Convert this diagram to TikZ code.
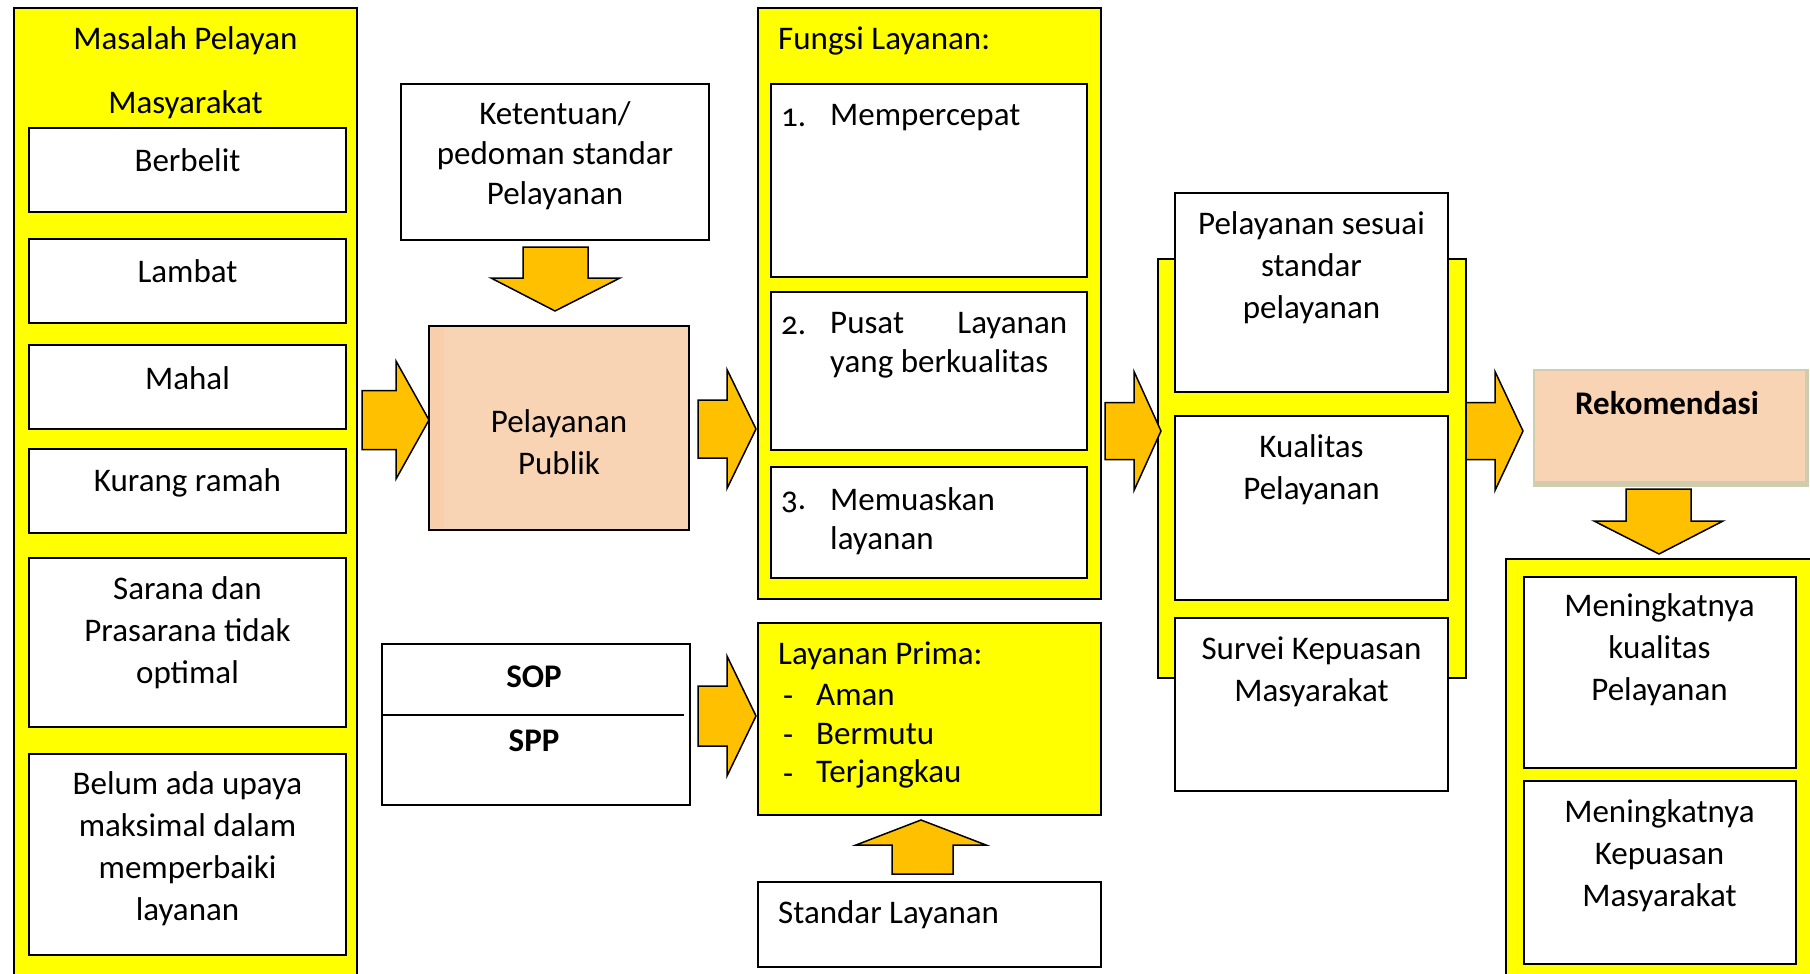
\documentclass[tikz,border=0pt]{standalone}
\usepackage{fontspec}
\setmainfont{Carlito}[Numbers=OldStyle]
\usetikzlibrary{calc}
\definecolor{yel}{HTML}{FFFF00}
\definecolor{org}{HTML}{FFC000}
\definecolor{peach}{HTML}{F8D4B4}
\definecolor{peachdark}{HTML}{F9CEAA}
\definecolor{rekrim}{HTML}{CFCDAE}
\newcommand\rblock[6]{\draw[barrow] (#1,{#4-#5}) -- (#2,{#4-#5}) -- (#2,{#4-#6}) -- (#3,#4) -- (#2,{#4+#6}) -- (#2,{#4+#5}) -- (#1,{#4+#5}) -- cycle;}
\begin{document}
\begin{tikzpicture}[x=1pt,y=-1pt,
  box/.style={anchor=north west, inner sep=0pt, outer sep=0pt},
  ybox/.style={box, draw=black, line width=2pt, fill=yel},
  wbox/.style={box, draw=black, line width=1.8pt, fill=white},
  txt/.style={font=\fontsize{33}{42}\selectfont, align=center, inner sep=0pt},
  ltxt/.style={font=\fontsize{33}{39}\selectfont, align=left, inner sep=0pt, anchor=west},
  barrow/.style={draw=black, line width=1.5pt, fill=org, line join=miter}]
\clip (0,0) rectangle (1810,974);
\useasboundingbox (0,0) rectangle (1810,974);
\fill[white] (0,0) rectangle (1810,974);

% ---------- left column ----------
\node[ybox, minimum width=343pt, minimum height=990pt] (lcol) at (14,8) {};
\node[txt] (ltitle1) at (185.5,40.5) {Masalah Pelayan};
\node[txt] (ltitle2) at (185.5,104.5) {Masyarakat};
\node[wbox, minimum width=317pt, minimum height=84pt] (b1) at (29,128) {};
\node[wbox, minimum width=317pt, minimum height=84pt] (b2) at (29,239) {};
\node[wbox, minimum width=317pt, minimum height=84pt] (b3) at (29,345) {};
\node[wbox, minimum width=317pt, minimum height=84pt] (b4) at (29,449) {};
\node[wbox, minimum width=317pt, minimum height=169pt] (b5) at (29,558) {};
\node[wbox, minimum width=317pt, minimum height=201pt] (b6) at (29,754) {};
\node[txt] (t1) at (187.5,160) {Berbelit};
\node[txt] (t2) at (187.5,271) {Lambat};
\node[txt] (t3) at (187.5,378) {Mahal};
\node[txt] (t4) at (187.5,482.5) {Kurang ramah};
\node[txt] (t5) at (187.5,632.5) {Sarana dan\\Prasarana tidak\\optimal};
\node[txt] (t6) at (187.5,849) {Belum ada upaya\\maksimal dalam\\memperbaiki\\layanan};

% ---------- second column ----------
\node[wbox, minimum width=308pt, minimum height=156pt] (ket) at (401,84) {};
\node[txt, font=\fontsize{33}{40}\selectfont] (kett) at (555,156) {Ketentuan/\\pedoman standar\\Pelayanan};
\node[box, draw=black, line width=1.8pt, fill=peach, minimum width=260pt, minimum height=204pt] (pp) at (429,326) {};
\fill[peachdark] (431,328) rectangle (444,528);
\draw[line width=1.8pt] (429,326) rectangle (689,530);
\node[txt] (ppt) at (559,442) {Pelayanan\\Publik};
\node[wbox, minimum width=308pt, minimum height=161pt] (sop) at (382,644) {};
\draw[line width=1.8pt] (sop.west |- 0,715) -- (684,715);
\node[txt, font=\fontsize{33}{42}\bfseries\selectfont] (sopt) at (534,677) {SOP};
\node[txt, font=\fontsize{33}{42}\bfseries\selectfont] (sppt) at (534,741) {SPP};

% ---------- third column ----------
\node[ybox, minimum width=343pt, minimum height=591pt] (fung) at (758,8) {};
\node[ltxt] (fungt) at (778,41) {Fungsi Layanan:};
\node[wbox, minimum width=316pt, minimum height=193pt] (f1) at (771,84) {};
\node[wbox, minimum width=316pt, minimum height=158pt] (f2) at (771,292) {};
\node[wbox, minimum width=316pt, minimum height=111pt] (f3) at (771,467) {};
\node[ltxt] (n1) at (781,118) {1.};
\node[ltxt] (f1t) at (830,118) {Mempercepat};
\node[ltxt] (n2) at (781,326) {2.};
\node[ltxt] (f2t) at (830,345) {\makebox[237pt][l]{Pusat\hfill Layanan}\\yang berkualitas};
\node[ltxt] (n3) at (781,502) {3.};
\node[ltxt] (f3t) at (830,521) {Memuaskan\\layanan};

\node[ybox, minimum width=343pt, minimum height=192pt] (lp) at (758,623) {};
\node[ltxt] (lpt) at (778,656) {Layanan Prima:};
\node[ltxt] (d1) at (783,695.5) {\vphantom{A}-};
\node[ltxt] (d2) at (783,734.5) {\vphantom{A}-};
\node[ltxt] (d3) at (783,773.5) {\vphantom{A}-};
\node[ltxt] (i1) at (816,695.5) {Aman};
\node[ltxt] (i2) at (816,734.5) {Bermutu};
\node[ltxt] (i3) at (816,773.5) {Terjangkau};
\node[wbox, minimum width=343pt, minimum height=85pt] (std) at (758,882) {};
\node[ltxt] (stdt) at (778,914.5) {Standar Layanan};

% ---------- fourth column ----------
\node[ybox, minimum width=308pt, minimum height=419pt] (rcol) at (1158,259) {};
\node[wbox, minimum width=273pt, minimum height=199pt] (r1) at (1175,193) {};
\node[wbox, minimum width=273pt, minimum height=184pt] (r2) at (1175,416) {};
\node[wbox, minimum width=273pt, minimum height=173pt] (r3) at (1175,618) {};
\node[txt] (r1t) at (1311.5,268) {Pelayanan sesuai\\standar\\pelayanan};
\node[txt] (r2t) at (1311.5,470) {Kualitas\\Pelayanan};
\node[txt] (r3t) at (1311.5,672) {Survei Kepuasan\\Masyarakat};

% ---------- fifth column ----------
\node[box, fill=rekrim, minimum width=276pt, minimum height=118pt] (rek) at (1533,369) {};
\fill[peach] (1535,371) rectangle (1805,481);
\node[txt, font=\fontsize{33}{42}\bfseries\selectfont] (rekt) at (1667,403) {Rekomendasi};
\node[ybox, minimum width=309pt, minimum height=431pt] (brcol) at (1506,559) {};
\node[wbox, minimum width=272pt, minimum height=191pt] (br1) at (1524,577) {};
\node[wbox, minimum width=272pt, minimum height=183pt] (br2) at (1524,781) {};
\node[txt] (br1t) at (1659.5,650) {Meningkatnya\\kualitas\\Pelayanan};
\node[txt] (br2t) at (1659.5,856) {Meningkatnya\\Kepuasan\\Masyarakat};

% ---------- block arrows ----------
\rblock{362}{396}{429}{420}{29.5}{59}
\rblock{698}{727}{756}{429}{29}{59.5}
\rblock{698}{727}{756}{716}{30}{60}
\rblock{1105}{1134}{1161}{431}{28.5}{59.5}
\rblock{1466}{1495}{1523}{431}{28.5}{59.5}
\draw[barrow] (523,247) -- (588,247) -- (588,278) -- (620,278) -- (555,311) -- (491,278) -- (523,278) -- cycle;
\draw[barrow] (1626,489) -- (1691,489) -- (1691,521) -- (1723,521) -- (1659,554) -- (1594,521) -- (1626,521) -- cycle;
\draw[barrow] (892,874) -- (953,874) -- (953,845) -- (986,845) -- (921,820) -- (856,845) -- (892,845) -- cycle;
\end{tikzpicture}
\end{document}
